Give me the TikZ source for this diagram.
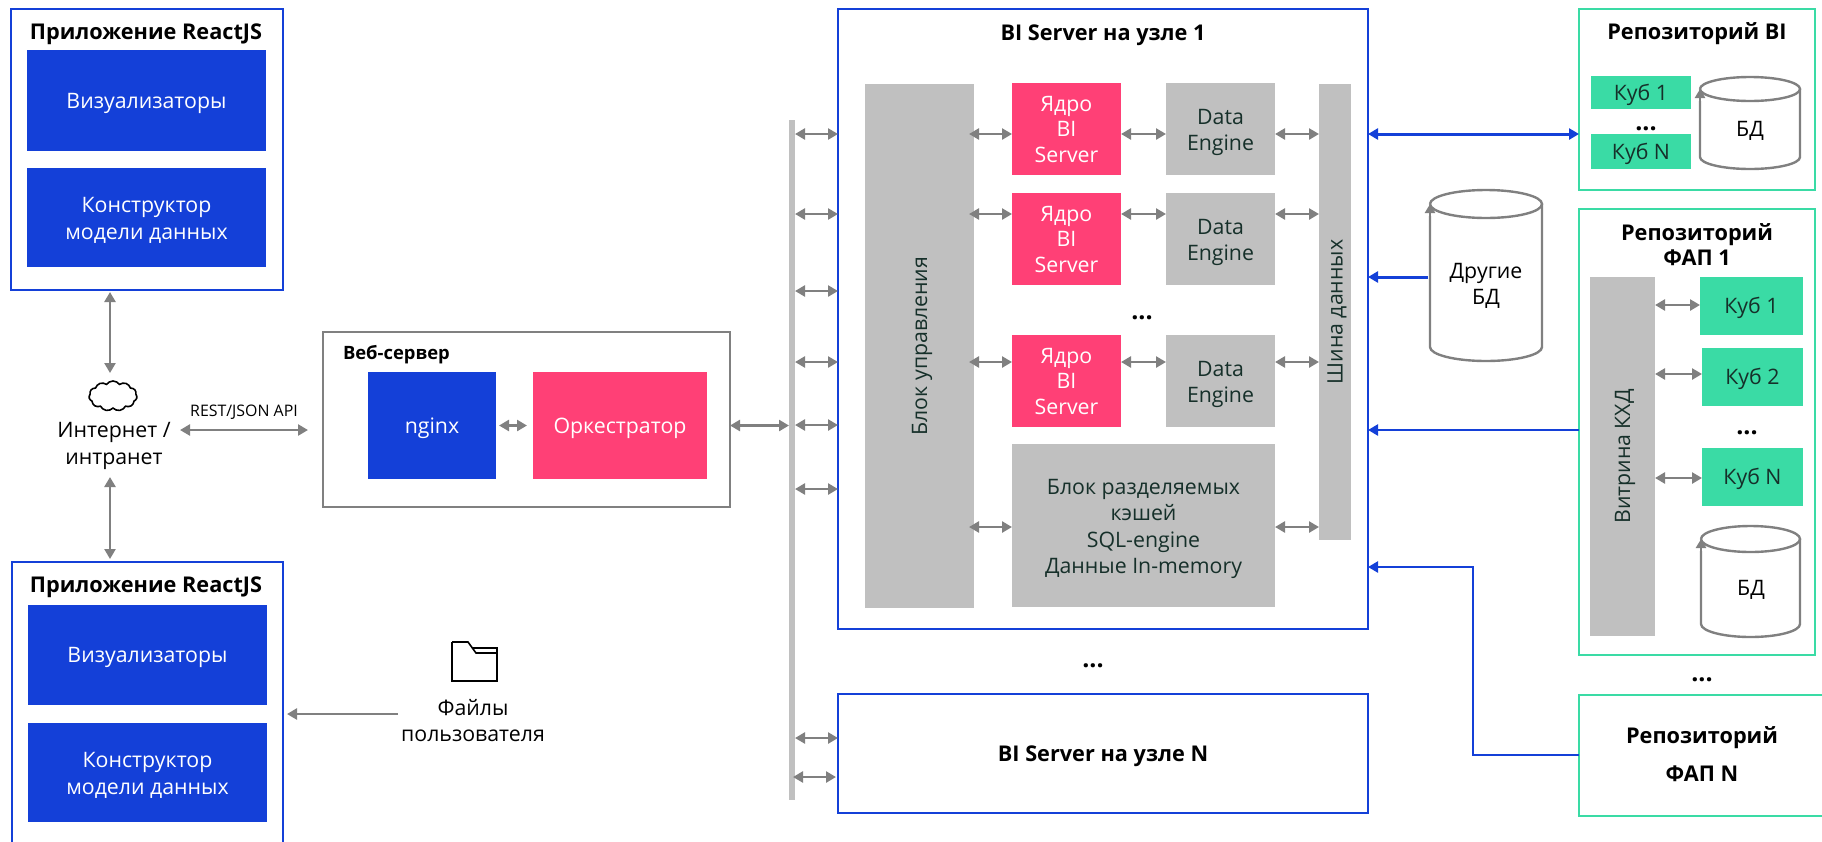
\documentclass[tikz,border=0pt]{standalone}
\usepackage{fontspec}
\setmainfont{Open Sans}
\usetikzlibrary{arrows.meta,shapes.symbols}
\definecolor{bluefill}{HTML}{1440D8}
\definecolor{pinkfill}{HTML}{FF4076}
\definecolor{greenfill}{HTML}{3ADBA5}
\definecolor{grayfill}{HTML}{C0C0C0}
\definecolor{arrowgray}{HTML}{808080}
\definecolor{darktext}{HTML}{16302A}
\newcommand{\bodyfont}{\fontsize{21.3}{26.4}\selectfont}
\newcommand{\titlefont}{\fontsize{21.7}{25}\selectfont\bfseries}
\newcommand{\dotsfont}{\fontsize{25}{25}\selectfont\bfseries}
\tikzset{
  every node/.style={inner sep=0pt,outer sep=0pt,align=center},
  onel/.style={text height=15.2pt,text depth=0pt},
  twol/.style={text height=43.6pt,text depth=0pt},
  threel/.style={text height=67pt,text depth=0pt},
  fourl/.style={text height=96.4pt,text depth=0pt},
  body/.style={font=\bodyfont,onel},
  title/.style={font=\titlefont,text height=15.5pt,text depth=0pt},
  dotrow/.style={font=\dotsfont,text height=8pt,text depth=0pt},
  bluebox/.style={fill=bluefill,text=white,body},
  pinkbox/.style={fill=pinkfill,text=white,body},
  graybox/.style={fill=grayfill,text=darktext,body},
  cubebox/.style={fill=greenfill,text=darktext,body},
  bluefrm/.style={draw=bluefill,line width=2.2pt},
  greenfrm/.style={draw=greenfill,line width=2.2pt},
  dbline/.style={draw=arrowgray,line width=2.4pt},
  twoway/.style={draw=arrowgray,line width=2.6pt,{Triangle[length=10pt,width=11pt]}-{Triangle[length=10pt,width=11pt]}},
  oneway/.style={draw=arrowgray,line width=2.6pt,-{Triangle[length=10pt,width=11pt]}},
  bluetwo/.style={draw=bluefill,line width=3pt,{Triangle[length=10pt,width=11pt]}-{Triangle[length=10pt,width=11pt]}},
  blueone/.style={draw=bluefill,line width=3pt,-{Triangle[length=10pt,width=11pt]}},
  bluethin/.style={draw=bluefill,line width=2.4pt,-{Triangle[length=10pt,width=11pt]}},
  dbtip/.style={draw=arrowgray,line width=2.4pt,-{Triangle[length=9pt,width=10pt]}},
}
\newcommand{\dbshape}[5]{% left, right, top, bottom, rim
  \draw[dbline] (#1,#3+#5) arc[start angle=180,end angle=-180,x radius={(#2-#1)/2},y radius=#5];
  \draw[dbline] (#2,#3+#5) -- (#2,#4-#5) arc[start angle=0,end angle=180,x radius={(#2-#1)/2},y radius=#5] -- (#1,#3+#5+12);
  \draw[dbtip] (#1,#3+#5+12) -- (#1,#3+#5);
}
\begin{document}
\begin{tikzpicture}[x=1pt,y=-1pt]
  \useasboundingbox (0,0) rectangle (1822,841);

  % left side
  \node (app1) [bluefrm,minimum width=272pt,minimum height=281pt] at (147,149.5) {};
  \node (app1title) [title] at (146,32) {Приложение ReactJS};
  \node (vis1) [bluebox,minimum width=239pt,minimum height=101pt] at (146.5,100.5) {Визуализаторы};
  \node (con1) [bluebox,twol,minimum width=239pt,minimum height=99pt] at (146.5,217.5) {Конструктор\\модели данных};
  \node (app2) [bluefrm,minimum width=271pt,minimum height=298pt] at (147.5,711) {};
  \node (app2title) [title] at (146,585) {Приложение ReactJS};
  \node (vis2) [bluebox,minimum width=239pt,minimum height=100pt] at (147.5,655) {Визуализаторы};
  \node (con2) [bluebox,twol,minimum width=239pt,minimum height=99pt] at (147.5,772.5) {Конструктор\\модели данных};

  \node (cloud) [cloud,draw,line width=1.6pt,cloud puffs=11,cloud puff arc=110,minimum width=48pt,minimum height=30pt] at (113,396) {};
  \node (inet) [body,twol] at (114,442.5) {Интернет /\\интранет};
  \node (rest) [font=\fontsize{15.9}{19}\selectfont,text height=11.4pt,text depth=0pt] at (244,411) {REST/JSON API};
  \node (files) [body,twol] at (473,720) {Файлы\\пользователя};
  \draw[line width=1.6pt] (452,642) -- (468,642) -- (476,653) -- (497,653);
  \draw[line width=1.6pt] (472,648) -- (497,648) -- (497,681) -- (452,681) -- (452,642);

  \coordinate (inetup) at (110,373);
  \coordinate (inetdown) at (110,477);
  \coordinate (filesout) at (398,714);
  \draw[twoway] ([yshift=-2pt]inetup |- app1.south) -- (inetup);
  \draw[twoway] (inetdown) -- ([yshift=3pt]inetdown |- app2.north);
  \draw[oneway] (filesout) -- ([xshift=4pt]app2.east |- filesout);

  % web server
  \node (web) [draw=arrowgray,line width=2pt,minimum width=407pt,minimum height=175pt] at (526.5,419.5) {};
  \node (webtitle) [anchor=west,font=\fontsize{18.4}{22}\selectfont\bfseries,text height=13pt,text depth=0pt] at (343,353) {Веб-сервер};
  \node (nginx) [bluebox,minimum width=128pt,minimum height=107pt] at (432,425.5) {nginx};
  \node (orch) [pinkbox,minimum width=174pt,minimum height=107pt] at (620,425.5) {Оркестратор};
  \draw[twoway] ([xshift=3pt]nginx.east) -- ([xshift=-6pt]orch.west);
  \coordinate (inetright) at (180,430);
  \draw[twoway] (inetright) -- ([xshift=-15pt]web.west |- inetright);

  % bus between web server and nodes
  \node (bus) [fill=grayfill,minimum width=6pt,minimum height=680pt] at (792,460) {};
  \draw[twoway] (web.east |- nginx) -- (bus.west |- nginx);

  % first node
  \node (srv1) [bluefrm,minimum width=530pt,minimum height=620pt] at (1103,319) {};
  \node (srv1title) [title] at (1103,32.5) {BI Server на узле 1};
  \node (ctrl) [graybox,minimum width=109pt,minimum height=524pt] at (919.5,346) {};
  \node (ctrltext) [rotate=90,body,text=darktext] at (ctrl) {Блок управления};
  \node (dbus) [graybox,minimum width=32pt,minimum height=456pt] at (1335,312) {};
  \node (dbustext) [rotate=90,body,text=darktext] at (dbus) {Шина данных};
  \node (shared) [graybox,fourl,minimum width=263pt,minimum height=163pt] at (1143.5,525.5) {Блок разделяемых\\кэшей\\SQL-engine\\Данные In-memory};
  \foreach \i/\y in {1/129,2/239,3/381}{
    \node (core\i) [pinkbox,threel,minimum width=109pt,minimum height=92pt] at (1066.5,\y) {Ядро\\[-0.8pt]BI\\[-0.8pt]Server};
    \node (eng\i) [graybox,twol,minimum width=109pt,minimum height=92pt] at (1220.5,\y) {Data\\Engine};
  }
  \node (rowdots) [dotrow] at (1142,315) {...};
  \foreach \i/\y in {1/134,2/214,3/362}{
    \coordinate (row\i) at (0,\y);
    \draw[twoway] ([xshift=-5pt]ctrl.east |- row\i) -- (core\i.west |- row\i);
    \draw[twoway] (core\i.east |- row\i) -- (eng\i.west |- row\i);
    \draw[twoway] (eng\i.east |- row\i) -- (dbus.west |- row\i);
  }
  \coordinate (row4) at (0,527);
  \draw[twoway] ([xshift=-5pt]ctrl.east |- row4) -- (shared.west |- row4);
  \draw[twoway] (shared.east |- row4) -- (dbus.west |- row4);
  \foreach \y in {134,214,291,362,425,489}{
    \coordinate (tap) at (0,\y);
    \draw[twoway] (bus.east |- tap) -- (srv1.west |- tap);
  }

  % last node
  \node (nodedots) [dotrow] at (1093,663.5) {...};
  \node (srvn) [bluefrm,minimum width=530pt,minimum height=119pt] at (1103,753.5) {};
  \node (srvntitle) [title] at (1103,754) {BI Server на узле N};
  \coordinate (tapa) at (0,738);
  \coordinate (tapb) at (0,777);
  \draw[twoway] (bus.east |- tapa) -- (srvn.west |- tapa);
  \draw[twoway] ([xshift=-2pt]bus.east |- tapb) -- ([xshift=-2pt]srvn.west |- tapb);

  % other databases
  \dbshape{1430}{1542}{190}{361}{14}
  \node (otherdb) [body,twol] at (1486,283) {Другие\\БД};

  % BI repository
  \node (repobi) [greenfrm,minimum width=236pt,minimum height=181pt] at (1697,99.5) {};
  \node (repobititle) [title] at (1697,31.5) {Репозиторий BI};
  \node (bicube1) [cubebox,minimum width=100pt,minimum height=33pt] at (1641,92.5) {Куб 1};
  \node (bidots) [dotrow] at (1646,126.7) {...};
  \node (bicuben) [cubebox,minimum width=100pt,minimum height=35pt] at (1641,151.5) {Куб N};
  \dbshape{1700}{1800}{77}{169}{12}
  \node (bidb) [body] at (1750,129) {БД};

  % FAP 1 repository
  \node (repof) [greenfrm,minimum width=236pt,minimum height=446pt] at (1697,432) {};
  \node (repoftitle) [title,text height=40.5pt] at (1697,245) {Репозиторий\\ФАП 1};
  \node (vitr) [graybox,minimum width=65pt,minimum height=359pt] at (1622.5,456.5) {};
  \node (vitrtext) [rotate=90,body,text=darktext] at (vitr) {Витрина КХД};
  \node (fcube1) [cubebox,minimum width=103pt,minimum height=58pt] at (1751.5,306) {Куб 1};
  \node (fcube2) [cubebox,minimum width=101pt,minimum height=58pt] at (1752.5,377) {Куб 2};
  \node (fdots) [dotrow] at (1747,430) {...};
  \node (fcuben) [cubebox,minimum width=101pt,minimum height=58pt] at (1752.5,477) {Куб N};
  \coordinate (frow1) at (0,305);
  \coordinate (frow2) at (0,374);
  \coordinate (frow3) at (0,478);
  \draw[twoway] (vitr.east |- frow1) -- (fcube1.west |- frow1);
  \draw[twoway] (vitr.east |- frow2) -- (fcube2.west |- frow2);
  \draw[twoway] (vitr.east |- frow3) -- (fcuben.west |- frow3);
  \dbshape{1701}{1800}{526}{637}{13}
  \node (fdb) [body] at (1751,588) {БД};

  % FAP N repository
  \node (repodots) [dotrow] at (1702,677.7) {...};
  \node (repon) [greenfrm,minimum width=246pt,minimum height=120.5pt] at (1702,755.5) {};
  \node (repontitle) [title] at (1702,736) {Репозиторий};
  \node (repontitleb) [title] at (1702,774) {ФАП N};

  % links to the repositories
  \coordinate (linka) at (0,134);
  \coordinate (linkb) at (1428,277);
  \coordinate (linkc) at (0,430);
  \coordinate (linkd) at (0,567);
  \coordinate (linke) at (1473,755);
  \draw[bluetwo] (srv1.east |- linka) -- (repobi.west |- linka);
  \draw[blueone] (linkb) -- (srv1.east |- linkb);
  \draw[bluethin] (repof.west |- linkc) -- (srv1.east |- linkc);
  \draw[bluethin] (repon.west |- linke) -- (linke) -- (linke |- linkd) -- (srv1.east |- linkd);
\end{tikzpicture}
\end{document}
